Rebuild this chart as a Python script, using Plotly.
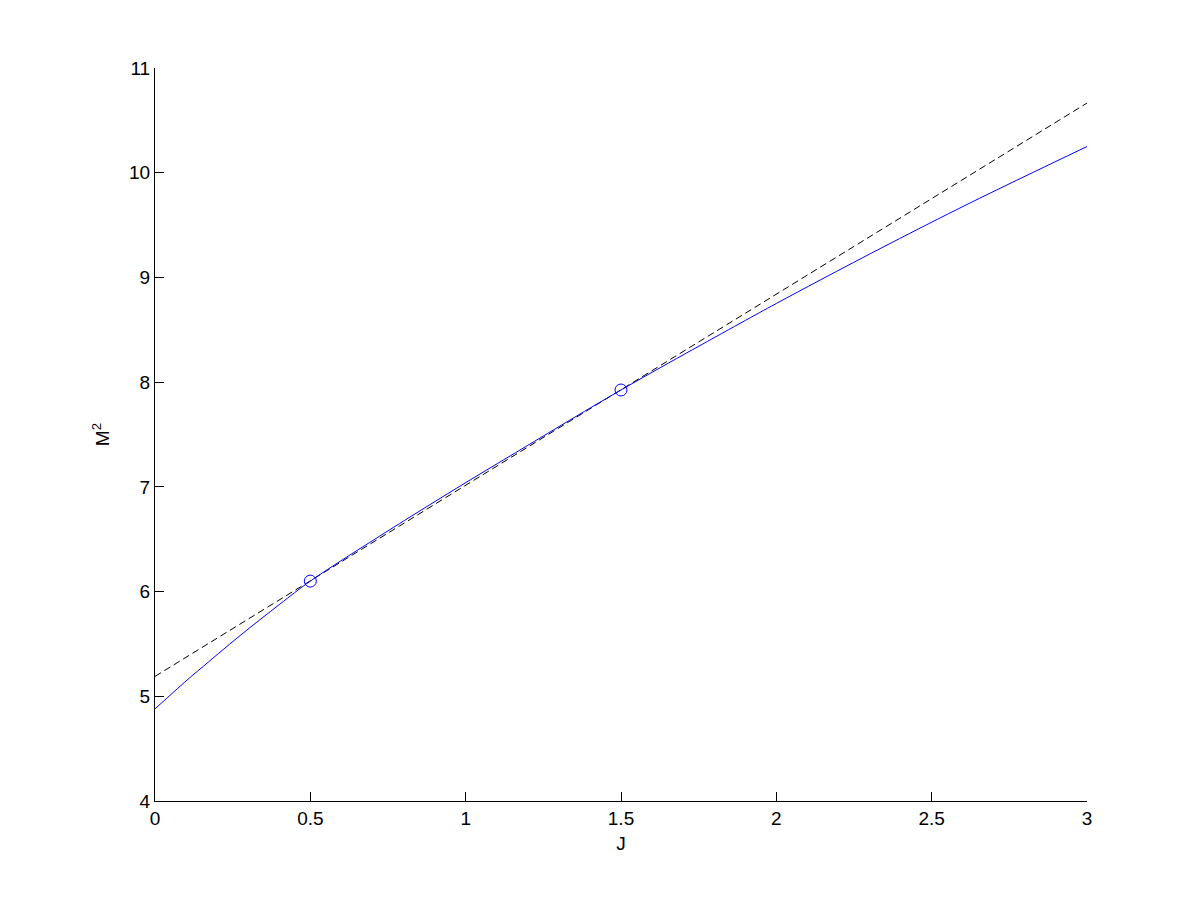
import plotly.graph_objects as go

# values
j_curve = [0, 0.113, 0.145, 0.274, 0.402, 0.5, 0.75, 0.885, 1.0, 1.143, 1.5,
           1.883, 2.0, 2.141, 2.366, 2.623, 3.0]
m2_curve = [4.88, 5.18, 5.26, 5.58, 5.88, 6.10, 6.58, 6.83, 7.04, 7.295, 7.925,
            8.561, 8.751, 8.975, 9.324, 9.71, 10.25]

j_fit = [0, 3]
m2_fit = [5.19, 10.665]

j_pts = [0.5, 1.5]
m2_pts = [6.10, 7.925]

fig = go.Figure()
fig.add_trace(go.Scatter(x=j_fit, y=m2_fit, mode='lines',
                         line=dict(color='black', width=1, dash='7px,4px')))
fig.add_trace(go.Scatter(x=j_curve, y=m2_curve, mode='lines', line_shape='spline',
                         line=dict(color='blue', width=1)))
fig.add_trace(go.Scatter(x=j_pts, y=m2_pts, mode='markers',
                         marker=dict(symbol='circle-open', size=12, color='blue',
                                     line=dict(width=1, color='blue'))))

axis_style = dict(showgrid=False, zeroline=False, showline=True, linecolor='black',
                  linewidth=1, mirror=False, ticks='inside', ticklen=9,
                  tickcolor='black', tickfont=dict(size=19, color='black'))

fig.update_xaxes(range=[0, 3], dtick=0.5, tick0=0,
                 title=dict(text='J', font=dict(size=19, color='black'), standoff=8),
                 **axis_style)
fig.update_yaxes(range=[4, 11], dtick=1, tick0=4,
                 title=dict(text='M<sup>2</sup>', font=dict(size=19, color='black'), standoff=14),
                 **axis_style)

# page body has an 8px margin, so margins are shifted by that
fig.update_layout(width=1200, height=900, autosize=False, showlegend=False,
                  plot_bgcolor='white', paper_bgcolor='white',
                  font=dict(family='Liberation Sans, Arial', size=19, color='black'),
                  margin=dict(l=147, r=121, t=60, b=107))

fig.write_html("out.html")
